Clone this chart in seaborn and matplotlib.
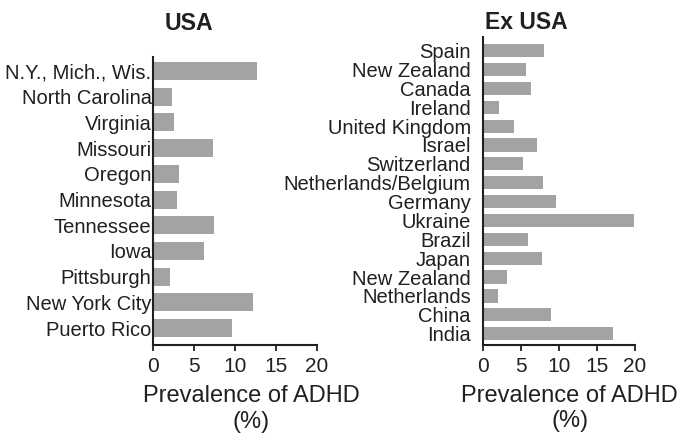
import matplotlib
matplotlib.use("Agg")
import matplotlib.pyplot as plt
import seaborn as sns
import pandas as pd

# Prevalence of ADHD (%) by study site
usa_sites = ["N.Y., Mich., Wis.", "North Carolina", "Virginia", "Missouri", "Oregon",
             "Minnesota", "Tennessee", "Iowa", "Pittsburgh", "New York City", "Puerto Rico"]
usa_prev = [12.7, 2.3, 2.5, 7.35, 3.2, 2.9, 7.4, 6.2, 2.1, 12.2, 9.6]

exusa_sites = ["Spain", "New Zealand", "Canada", "Ireland", "United Kingdom", "Israel",
               "Switzerland", "Netherlands/Belgium", "Germany", "Ukraine", "Brazil",
               "Japan", "New Zealand", "Netherlands", "China", "India"]
exusa_prev = [8.0, 5.7, 6.3, 2.1, 4.05, 7.1, 5.2, 7.9, 9.6, 19.9, 5.85, 7.7, 3.1, 1.9, 8.9, 17.1]

x_ticks = [0, 5, 10, 15, 20]

sns.set_theme(style="ticks")
plt.rcParams["font.family"] = ["Liberation Sans", "DejaVu Sans"]

BAR = "#a3a3a6"
INK = "#231f20"

fig = plt.figure(figsize=(6.84, 4.34), dpi=100)
ax1 = fig.add_axes([0.2237, 0.2051, 0.2398, 0.6636])
ax2 = fig.add_axes([0.7066, 0.2051, 0.2213, 0.7104])


def draw(ax, sites, prev, ylim, label_size, pad):
    # rows get unique ids so repeated site names stay separate bars
    df = pd.DataFrame({"row": [f"r{i}" for i in range(len(sites))], "prev": prev})
    sns.barplot(data=df, x="prev", y="row", orient="h", color=BAR, saturation=1,
                width=0.7, edgecolor="none", ax=ax)
    ax.set_yticks(range(len(sites)))
    ax.set_yticklabels(sites, fontsize=label_size, color=INK)
    ax.set_ylim(*ylim)
    ax.set_xlim(0, 20)
    ax.set_xticks(x_ticks)
    ax.set_xticklabels([str(t) for t in x_ticks], fontsize=15, color=INK)
    ax.set_ylabel("")
    ax.set_xlabel("Prevalence of ADHD\n(%)", fontsize=17, color=INK, labelpad=0)
    ax.xaxis.label.set_verticalalignment("top")
    ax.tick_params(axis="y", length=0, pad=pad)
    ax.tick_params(axis="x", direction="out", length=4, width=1.3, color=INK, pad=5)
    for s in ["top", "right"]:
        ax.spines[s].set_visible(False)
    for s in ["left", "bottom"]:
        ax.spines[s].set_linewidth(1.5)
        ax.spines[s].set_color(INK)
    ax.set_facecolor("white")


draw(ax1, usa_sites, usa_prev, (10.66, -0.545), 14.5, 1)
draw(ax2, exusa_sites, exusa_prev, (15.6, -0.74), 14.5, 9)
ax1.xaxis.set_label_coords(0.6, -0.14)
ax2.xaxis.set_label_coords(0.57, -0.13)

fig.text(189.5 / 684, 1 - 23.3 / 434, "USA", ha="center", va="center",
         fontsize=16.7, fontweight="bold", color=INK)
fig.text(526.5 / 684, 1 - 22.5 / 434, "Ex USA", ha="center", va="center",
         fontsize=16.5, fontweight="bold", color=INK)

fig.savefig("out.png", dpi=100, facecolor="white")
